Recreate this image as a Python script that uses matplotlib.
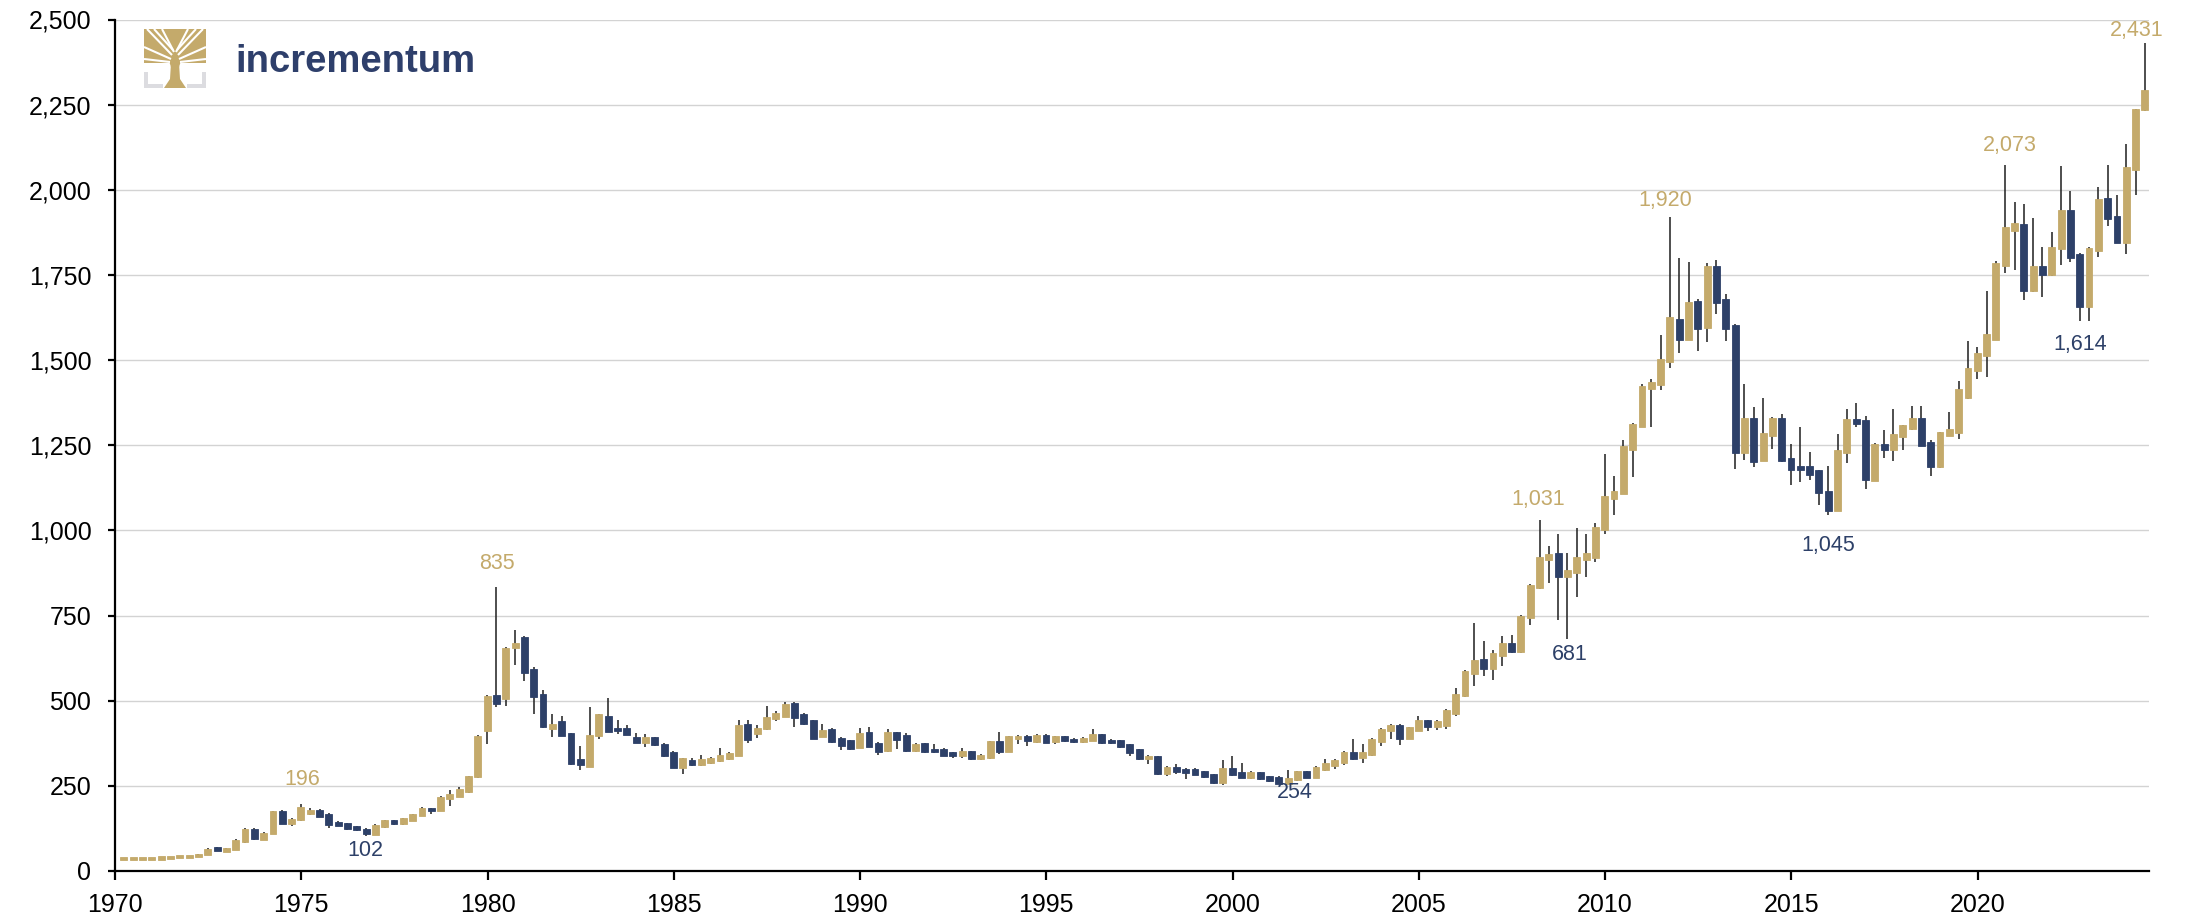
import matplotlib
matplotlib.use("Agg")
import matplotlib.pyplot as plt
from matplotlib.patches import Polygon, Rectangle
from matplotlib.ticker import FuncFormatter
import numpy as np

plt.rcParams['font.family'] = ['Liberation Sans', 'DejaVu Sans']

# ---------------- data: quarterly gold price (USD/oz), 1970 Q1 - 2024 Q2 ----------------
first_year = 1970
opens = [
    35.2, 35.5, 35.9, 36.3,      # 1970
    37.4, 38.9, 40.1, 42.5,      # 1971
    43.6, 48.4, 70.0, 57.0,      # 1972
    62.0, 84.0, 124.0, 92.0,     # 1973
    110.0, 177.0, 137.0, 150.0,  # 1974
    167.0, 180.0, 168.0, 145.0,  # 1975
    140.0, 131.0, 124.0, 106.0,  # 1976
    128.0, 149.0, 137.0, 147.0,  # 1977
    162.0, 185.0, 177.0, 210.0,  # 1978
    218.0, 232.0, 276.0, 410.0,  # 1979
    518.0, 505.0, 655.0, 686.0,  # 1980
    592.0, 519.0, 417.0, 440.0,  # 1981
    406.0, 330.0, 306.0, 397.0,  # 1982
    456.0, 421.0, 420.0, 394.0,  # 1983
    377.0, 392.0, 374.0, 350.0,  # 1984
    301.0, 327.0, 311.0, 317.0,  # 1985
    322.0, 328.0, 339.0, 432.0,  # 1986
    402.0, 416.0, 445.0, 453.0,  # 1987
    494.0, 462.0, 442.0, 394.0,  # 1988
    418.0, 391.0, 384.0, 362.0,  # 1989
    407.0, 377.0, 353.0, 408.0,  # 1990
    399.0, 353.0, 375.0, 359.0,  # 1991
    359.0, 349.0, 338.0, 352.0,  # 1992
    328.0, 331.0, 382.0, 350.0,  # 1993
    387.0, 397.0, 380.0, 400.0,  # 1994
    379.0, 395.0, 389.0, 379.0,  # 1995
    383.0, 401.0, 386.0, 384.0,  # 1996
    372.0, 357.0, 328.0, 337.0,  # 1997
    284.0, 306.0, 300.0, 300.0,  # 1998
    293.0, 284.0, 257.0, 302.0,  # 1999
    291.0, 272.0, 291.0, 278.0,  # 2000
    277.0, 256.0, 266.0, 294.0,  # 2001
    274.0, 297.0, 307.0, 317.0,  # 2002
    350.0, 331.0, 341.0, 378.0,  # 2003
    411.0, 429.0, 389.0, 412.0,  # 2004
    443.0, 422.0, 427.0, 461.0,  # 2005
    513.0, 579.0, 623.0, 592.0,  # 2006
    631.0, 670.0, 643.0, 742.0,  # 2007
    830.0, 912.0, 933.0, 864.0,  # 2008
    874.0, 913.0, 920.0, 1000.0,  # 2009
    1092.0, 1108.0, 1235.0, 1303.0,  # 2010
    1416.0, 1426.0, 1494.0, 1622.0,  # 2011
    1560.0, 1673.0, 1594.0, 1775.0,  # 2012
    1678.0, 1603.0, 1228.0, 1331.0,  # 2013
    1204.0, 1278.0, 1331.0, 1212.0,  # 2014
    1188.0, 1188.0, 1176.0, 1117.0,  # 2015
    1056.0, 1227.0, 1327.0, 1323.0,  # 2016
    1145.0, 1253.0, 1236.0, 1274.0,  # 2017
    1298.0, 1331.0, 1259.0, 1187.0,  # 2018
    1278.0, 1287.0, 1388.0, 1469.0,  # 2019
    1512.0, 1559.0, 1776.0, 1880.0,  # 2020
    1901.0, 1703.0, 1776.0, 1751.0,  # 2021
    1825.0, 1942.0, 1811.0, 1657.0,  # 2022
    1819.0, 1975.0, 1923.0, 1844.0,  # 2023
    2058.0, 2234.0,                  # 2024
]
highs = [
    35.6, 36.0, 36.5, 37.5,
    39.0, 40.5, 43.0, 43.8,
    49.0, 67.0, 70.0, 68.0,
    93.0, 127.0, 127.0, 114.0,
    176.0, 178.0, 157.0, 196.0,
    186.0, 182.0, 169.0, 146.0,
    141.0, 132.0, 125.0, 137.0,
    151.0, 150.0, 156.0, 168.0,
    188.0, 186.0, 219.0, 238.0,
    248.0, 280.0, 398.0, 518.0,
    835.0, 658.0, 709.0, 690.0,
    599.0, 532.0, 462.0, 454.0,
    406.0, 366.0, 481.0, 462.0,
    509.0, 442.0, 430.0, 405.0,
    403.0, 393.0, 375.0, 351.0,
    333.0, 332.0, 341.0, 334.0,
    362.0, 349.0, 444.0, 444.0,
    428.0, 483.0, 470.0, 497.0,
    495.0, 463.0, 443.0, 431.0,
    419.0, 392.0, 385.0, 421.0,
    423.0, 378.0, 416.0, 409.0,
    406.0, 375.0, 376.0, 372.0,
    360.0, 350.0, 360.0, 353.0,
    344.0, 383.0, 408.0, 397.0,
    399.0, 399.0, 401.0, 402.0,
    397.0, 397.0, 390.0, 393.0,
    418.0, 403.0, 387.0, 385.0,
    373.0, 358.0, 341.0, 338.0,
    307.0, 313.0, 301.0, 301.0,
    294.0, 285.0, 325.0, 337.0,
    317.0, 293.0, 292.0, 279.0,
    278.0, 296.0, 295.0, 295.0,
    307.0, 329.0, 328.0, 351.0,
    387.0, 373.0, 391.0, 419.0,
    431.0, 431.0, 424.0, 456.0,
    444.0, 442.0, 475.0, 538.0,
    589.0, 729.0, 676.0, 648.0,
    689.0, 693.0, 751.0, 842.0,
    1031.0, 953.0, 989.0, 933.0,
    1007.0, 990.0, 1022.0, 1225.0,
    1161.0, 1264.0, 1315.0, 1430.0,
    1445.0, 1574.0, 1920.0, 1800.0,
    1789.0, 1680.0, 1785.0, 1795.0,
    1693.0, 1605.0, 1431.0, 1361.0,
    1389.0, 1333.0, 1342.0, 1254.0,
    1305.0, 1230.0, 1178.0, 1188.0,
    1282.0, 1357.0, 1374.0, 1336.0,
    1256.0, 1296.0, 1357.0, 1310.0,
    1365.0, 1365.0, 1266.0, 1290.0,
    1347.0, 1439.0, 1556.0, 1539.0,
    1703.0, 1790.0, 2073.0, 1965.0,
    1958.0, 1916.0, 1833.0, 1877.0,
    2069.0, 1997.0, 1813.0, 1831.0,
    2009.0, 2072.0, 1986.0, 2134.0,
    2238.0, 2431.0,
]
lows = [
    34.8, 35.3, 35.6, 36.1,
    37.3, 38.8, 40.0, 42.0,
    43.5, 48.0, 58.0, 56.5,
    61.0, 83.0, 92.0, 90.0,
    109.0, 137.0, 133.0, 148.0,
    165.0, 158.0, 127.0, 131.0,
    121.0, 117.0, 102.0, 105.0,
    127.0, 135.0, 135.0, 146.0,
    161.0, 166.0, 176.0, 190.0,
    216.0, 228.0, 273.0, 372.0,
    481.0, 484.0, 604.0, 558.0,
    462.0, 420.0, 392.0, 395.0,
    312.0, 298.0, 305.0, 389.0,
    407.0, 401.0, 398.0, 375.0,
    365.0, 367.0, 336.0, 302.0,
    286.0, 309.0, 309.0, 315.0,
    320.0, 326.0, 337.0, 376.0,
    390.0, 413.0, 440.0, 451.0,
    423.0, 428.0, 387.0, 392.0,
    377.0, 356.0, 354.0, 360.0,
    364.0, 340.0, 350.0, 359.0,
    350.0, 350.0, 345.0, 346.0,
    337.0, 333.0, 333.0, 326.0,
    326.0, 329.0, 343.0, 348.0,
    374.0, 368.0, 376.0, 375.0,
    372.0, 380.0, 377.0, 377.0,
    381.0, 374.0, 373.0, 361.0,
    337.0, 327.0, 313.0, 282.0,
    278.0, 285.0, 271.0, 281.0,
    273.0, 255.0, 252.0, 279.0,
    272.0, 270.0, 268.0, 262.0,
    254.0, 254.0, 264.0, 272.0,
    272.0, 295.0, 300.0, 311.0,
    326.0, 318.0, 339.0, 366.0,
    387.0, 370.0, 387.0, 410.0,
    411.0, 413.0, 418.0, 455.0,
    512.0, 543.0, 572.0, 560.0,
    603.0, 640.0, 641.0, 721.0,
    828.0, 847.0, 737.0, 681.0,
    803.0, 863.0, 907.0, 988.0,
    1044.0, 1106.0, 1157.0, 1303.0,
    1305.0, 1413.0, 1477.0, 1522.0,
    1558.0, 1526.0, 1554.0, 1636.0,
    1555.0, 1181.0, 1208.0, 1186.0,
    1203.0, 1240.0, 1201.0, 1132.0,
    1142.0, 1147.0, 1076.0, 1045.0,
    1056.0, 1199.0, 1303.0, 1123.0,
    1145.0, 1214.0, 1204.0, 1236.0,
    1296.0, 1247.0, 1161.0, 1183.0,
    1276.0, 1268.0, 1386.0, 1444.0,
    1451.0, 1559.0, 1756.0, 1766.0,
    1676.0, 1701.0, 1686.0, 1747.0,
    1779.0, 1787.0, 1614.0, 1615.0,
    1803.0, 1894.0, 1843.0, 1811.0,
    1984.0, 2230.0,
]
closes = [
    35.5, 35.9, 36.3, 37.4,
    38.9, 40.1, 42.5, 43.6,
    48.4, 66.0, 58.5, 67.0,
    92.0, 124.0, 94.0, 113.0,
    175.0, 138.0, 153.0, 188.0,
    179.0, 160.0, 134.0, 133.0,
    123.0, 119.0, 109.0, 135.0,
    149.0, 137.0, 155.0, 166.0,
    184.0, 176.0, 217.0, 227.0,
    240.0, 278.0, 397.0, 513.0,
    490.0, 655.0, 670.0, 580.0,
    510.0, 422.0, 432.0, 397.0,
    313.0, 312.0, 400.0, 460.0,
    409.0, 410.0, 400.0, 377.0,
    393.0, 369.0, 338.0, 303.0,
    332.0, 312.0, 330.0, 333.0,
    342.0, 347.0, 428.0, 386.0,
    420.0, 453.0, 463.0, 490.0,
    449.0, 431.0, 388.0, 414.0,
    379.0, 368.0, 359.0, 406.0,
    365.0, 350.0, 407.0, 386.0,
    352.0, 373.0, 350.0, 348.0,
    339.0, 337.0, 351.0, 328.0,
    342.0, 381.0, 350.0, 395.0,
    397.0, 382.0, 400.0, 377.0,
    395.0, 382.0, 379.0, 391.0,
    401.0, 376.0, 375.0, 363.0,
    347.0, 329.0, 339.0, 284.0,
    306.0, 291.0, 289.0, 283.0,
    275.0, 257.0, 302.0, 281.0,
    274.0, 292.0, 270.0, 264.0,
    256.0, 274.0, 293.0, 274.0,
    305.0, 318.0, 326.0, 349.0,
    329.0, 349.0, 389.0, 417.0,
    429.0, 388.0, 422.0, 442.0,
    423.0, 440.0, 473.0, 520.0,
    587.0, 619.0, 592.0, 641.0,
    668.0, 643.0, 749.0, 840.0,
    921.0, 931.0, 864.0, 884.0,
    923.0, 933.0, 1010.0, 1100.0,
    1117.0, 1247.0, 1313.0, 1425.0,
    1435.0, 1504.0, 1628.0, 1558.0,
    1672.0, 1592.0, 1775.0, 1669.0,
    1591.0, 1228.0, 1331.0, 1201.0,
    1287.0, 1331.0, 1203.0, 1178.0,
    1176.0, 1164.0, 1110.0, 1056.0,
    1237.0, 1327.0, 1311.0, 1147.0,
    1253.0, 1237.0, 1283.0, 1308.0,
    1331.0, 1249.0, 1187.0, 1288.0,
    1298.0, 1414.0, 1478.0, 1522.0,
    1576.0, 1786.0, 1891.0, 1903.0,
    1703.0, 1776.0, 1751.0, 1833.0,
    1942.0, 1801.0, 1655.0, 1829.0,
    1972.0, 1914.0, 1844.0, 2068.0,
    2236.0, 2293.0,
]

# labelled extremes
ann_labels = ["196", "102", "835", "1,031", "681", "254", "1,920", "1,045", "2,073", "1,614", "2,431"]
ann_x = [1975.02, 1976.72, 1980.24, 2008.2, 2009.06, 2001.68, 2011.61, 2015.98, 2020.86, 2022.75, 2024.28]
ann_y = [270, 60, 904, 1090, 636, 230, 1969, 956, 2130, 1545, 2467]
ann_up = [True, False, True, True, False, False, True, False, True, False, True]

x_ticks = list(range(1970, 2021, 5))
y_ticks = list(range(0, 2501, 250))

# ---------------- style ----------------
GOLD = "#C4AA6B"
NAVY = "#2D4068"
WICK = "#1E1E1E"
GRID = "#D3D3D3"

W, H = 2185, 923
fig = plt.figure(figsize=(W / 100, H / 100), dpi=100)
ax = fig.add_axes([115 / W, 1 - 871 / H, (2149 - 115) / W, (871 - 19.5) / H])

o = np.array(opens)
h = np.array(highs)
l = np.array(lows)
c = np.array(closes)
n = len(o)
x = first_year + np.arange(n) * 0.25 + 0.24

up = c >= o
colors = np.where(up, GOLD, NAVY)
body_low = np.minimum(o, c)
body_h = np.abs(c - o)
min_h = 9.0
adj = body_h < min_h
body_low = np.where(adj, (o + c) / 2 - min_h / 2, body_low)
body_h = np.where(adj, min_h, body_h)

ax.vlines(x, l, h, color=WICK, linewidth=1.1, zorder=2)
ax.bar(x, body_h, bottom=body_low, width=0.185, color=colors, edgecolor=colors,
       linewidth=0.6, zorder=3)

for lab, xx, yy, isup in zip(ann_labels, ann_x, ann_y, ann_up):
    ax.text(xx, yy, lab, ha="center", va="center", fontsize=15.5,
            color=GOLD if isup else NAVY, zorder=4)

ax.set_xlim(1970, 2024.6)
ax.set_ylim(0, 2500)
ax.set_xticks(x_ticks)
ax.set_yticks(y_ticks)
ax.yaxis.set_major_formatter(FuncFormatter(lambda v, p: f"{int(v):,}"))
ax.grid(axis="y", color=GRID, linewidth=1.0, zorder=0)
ax.set_axisbelow(True)
for s in ["top", "right"]:
    ax.spines[s].set_visible(False)
for s in ["left", "bottom"]:
    ax.spines[s].set_linewidth(1.6)
    ax.spines[s].set_color("black")
ax.tick_params(axis="y", length=5, width=1.6, pad=12, labelsize=18, direction="out")
ax.tick_params(axis="x", length=6.5, width=1.6, pad=9, labelsize=18, direction="out")

# ---------------- logo ----------------
lx0, ly_bot, lw_, lh_ = 144, 88, 62, 59
lax = fig.add_axes([lx0 / W, 1 - ly_bot / H, lw_ / W, lh_ / H])
lax.set_xlim(0, 62)
lax.set_ylim(0, 59)
lax.axis("off")
BR = "#DCDCE0"
for r in [(0, 0, 4, 16), (0, 0, 19, 4), (58, 0, 4, 16), (43, 0, 19, 4)]:
    lax.add_patch(Rectangle((r[0], r[1]), r[2], r[3], color=BR, lw=0))
lax.add_patch(Polygon([(20, 0), (42, 0), (36, 9), (35, 25), (27, 25), (26, 9)],
                      closed=True, color=GOLD, lw=0))
lax.add_patch(Rectangle((0, 24), 62, 35, color=GOLD, lw=0))
gaps = [((27, 29), (0, 41)), ((28, 33), (3, 59)), ((30, 36), (18, 59)),
        ((32, 36), (44, 59)), ((34, 33), (59, 59)), ((35, 29), (62, 41)),
        ((26, 26), (0, 29)), ((36, 26), (62, 29)), ((29, 38), (10, 59)),
        ((33, 38), (52, 59))]
for (p0, p1) in gaps:
    lax.plot([p0[0], p1[0]], [p0[1], p1[1]], color="white", lw=1.5,
             solid_capstyle="butt")
lax.add_patch(Rectangle((0, 22), 62, 3, color="white", lw=0))
lax.add_patch(Polygon([(27, 21), (35, 21), (37, 27), (25, 27)], closed=True,
                      color=GOLD, lw=0))

fig.text(235 / W, 1 - 72 / H, "incrementum", fontsize=27.5, fontweight="bold",
         color="#2E3F6B", ha="left", va="baseline")

fig.savefig("out.png", dpi=100)
